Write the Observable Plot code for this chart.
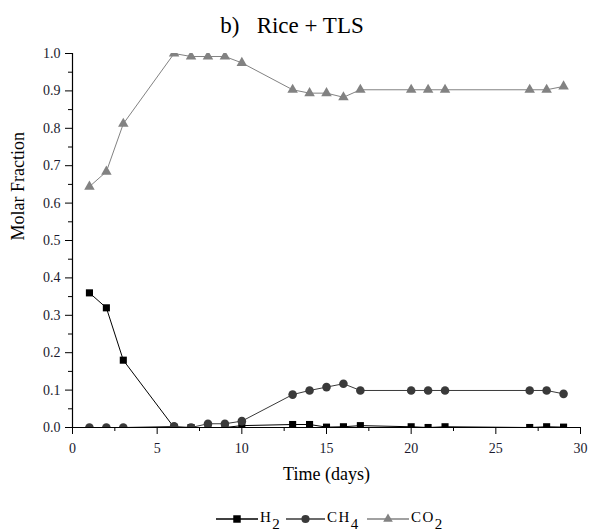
<!DOCTYPE html>
<html><head><meta charset="utf-8">
<script src="https://cdn.jsdelivr.net/npm/d3@7"></script>
<script src="https://cdn.jsdelivr.net/npm/@observablehq/plot@0.6"></script>
<style>
body{margin:0;background:#fff;font-family:"Liberation Serif","Times New Roman",serif;}
#wrap{width:590px;height:531px;position:relative;overflow:hidden;}
#title{height:40px;box-sizing:border-box;padding-top:14px;padding-right:6px;font-size:23px;line-height:23px;text-align:center;white-space:pre;color:#000;}
#legend{height:31px;position:relative;}
.item{position:absolute;top:9px;height:20px;display:flex;align-items:center;font-size:15px;letter-spacing:1.5px;color:#000;}
.item svg{display:block;}
.lab{position:relative;top:-2px;margin-left:2px;white-space:nowrap;}
.sub{position:relative;top:7px;}
</style></head><body>
<div id="wrap">
<div id="title">b)   Rice + TLS</div>
<div id="chart"></div>
<div id="legend"></div>
</div>
<script>
const days = [1, 2, 3, 6, 7, 8, 9, 10, 13, 14, 15, 16, 17, 20, 21, 22, 27, 28, 29];
const h2   = [0.36, 0.32, 0.18, 0, 0, 0, 0, 0.005, 0.008, 0.008, 0.001, 0.002, 0.005, 0.002, 0, 0.002, 0, 0.002, 0.001];
const ch4  = [0, 0, 0, 0.003, 0, 0.01, 0.01, 0.017, 0.088, 0.099, 0.108, 0.117, 0.099, 0.099, 0.099, 0.099, 0.099, 0.099, 0.09];
const co2  = [0.644, 0.684, 0.812, 1.0, 0.992, 0.992, 0.992, 0.975, 0.903, 0.894, 0.894, 0.883, 0.903, 0.903, 0.903, 0.903, 0.903, 0.903, 0.912];
const gases = ["H2", "CH4", "CO2"];
const gasValues = [h2, ch4, co2];
const gasColors = ["#000000", "#3a3a3a", "#828282"];
const gasSymbols = ["square", "circle", "triangle"];
const gasR = [4, 4.3, 3.9];
const xTicks = [0, 5, 10, 15, 20, 25, 30];
const xMinor = [2.5, 7.5, 12.5, 17.5, 22.5, 27.5];
const yTicks = [0, 0.1, 0.2, 0.3, 0.4, 0.5, 0.6, 0.7, 0.8, 0.9, 1.0];
const yMinor = [0.05, 0.15, 0.25, 0.35, 0.45, 0.55, 0.65, 0.75, 0.85, 0.95];

const serif = "Liberation Serif";
const rows = gases.flatMap((g, k) => days.map((d, i) => ({day: d, gas: g, v: gasValues[k][i]})));

const seriesMarks = gases.flatMap((g, k) => {
  const data = rows.filter(r => r.gas === g);
  return [
    Plot.line(data, {x: "day", y: "v", stroke: gasColors[k], strokeWidth: 1, clip: true}),
    Plot.dot(data, {x: "day", y: "v", symbol: gasSymbols[k], r: gasR[k], fill: gasColors[k], stroke: "none", clip: true})
  ];
});

const chart = Plot.plot({
  width: 590,
  height: 460,
  marginTop: 13,
  marginBottom: 73,
  marginLeft: 72,
  marginRight: 10,
  style: {fontSize: "14px", color: "#000", background: "#fff"},
  x: {domain: [0, 30]},
  y: {domain: [0, 1]},
  marks: [
    ...seriesMarks,
    Plot.axisX({ticks: xMinor, tickSize: 4, tickFormat: () => "", stroke: "#000", label: null}),
    Plot.axisX({ticks: xTicks, tickSize: 7, tickPadding: 9, tickFormat: d => String(d), fill: "#1a1a2e", stroke: "#000", label: null, fontSize: 14, fontFamily: serif}),
    Plot.axisY({ticks: yMinor, tickSize: 4, tickFormat: () => "", stroke: "#000", label: null}),
    Plot.axisY({ticks: yTicks, tickSize: 7, tickPadding: 5, tickFormat: d3.format(".1f"), fill: "#1a1a2e", stroke: "#000", label: null, fontSize: 14, fontFamily: serif}),
    Plot.ruleY([0], {stroke: "#000", strokeWidth: 1.2}),
    Plot.ruleX([0], {y1: 0, y2: 1, stroke: "#000", strokeWidth: 1.2}),
    Plot.text(["Time (days)"], {frameAnchor: "bottom", dy: 52, fontSize: 18, fill: "#000", fontFamily: serif}),
    Plot.text(["Molar Fraction"], {frameAnchor: "left", dx: -54, rotate: -90, fontSize: 18, fill: "#000", fontFamily: serif})
  ]
});
chart.setAttribute("font-family", serif);
d3.select(chart).selectAll("text").attr("font-family", serif).style("font-family", serif);
document.getElementById("chart").appendChild(chart);

// Legend
const legendLefts = [216, 286, 367];
const legendLabels = [["H", "2"], ["CH", "4"], ["CO", "2"]];
const symMap = {square: d3.symbolSquare, circle: d3.symbolCircle, triangle: d3.symbolTriangle};
const legendSizes = [56, 52, 40];
const legend = d3.select("#legend");
gases.forEach((g, k) => {
  const item = legend.append("div").attr("class", "item").style("left", legendLefts[k] + "px");
  const w = k === 1 ? 39 : 42;
  const s = item.append("svg").attr("width", w).attr("height", 20);
  s.append("line").attr("x1", 0).attr("x2", w).attr("y1", 10).attr("y2", 10).attr("stroke", gasColors[k]).attr("stroke-width", 1.3);
  s.append("path").attr("d", d3.symbol(symMap[gasSymbols[k]], legendSizes[k])()).attr("transform", `translate(${w / 2},10)`).attr("fill", gasColors[k]);
  const lab = item.append("span").attr("class", "lab");
  lab.append("span").text(legendLabels[k][0]);
  lab.append("span").attr("class", "sub").text(legendLabels[k][1]);
});
</script>
</body></html>
